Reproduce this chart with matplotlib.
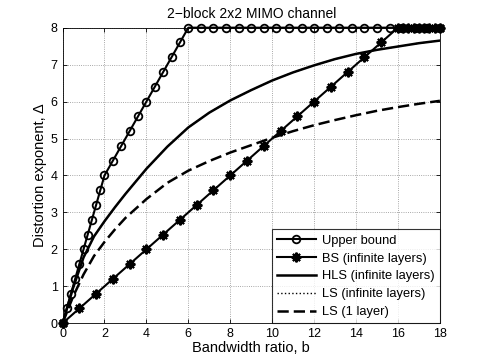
import matplotlib
matplotlib.use('Agg')
import matplotlib.pyplot as plt

plt.rcParams['font.family'] = ['Liberation Sans', 'DejaVu Sans']

# upper bound samples (bandwidth ratio b, distortion exponent)
ub_b = [0, 0.2, 0.4, 0.6, 0.8, 1.0, 1.2, 1.4, 1.6, 1.8, 2.0,
        2.4, 2.8, 3.2, 3.6, 4.0, 4.4, 4.8, 5.2, 5.6, 6.0,
        6.6, 7.2, 7.8, 8.4, 9.0, 9.6, 10.2, 10.8, 11.4, 12.0,
        12.6, 13.2, 13.8, 14.4, 15.0, 15.6, 16.2, 16.8, 17.4, 18.0]
ub_d = [0, 0.4, 0.8, 1.2, 1.6, 2.0, 2.4, 2.8, 3.2, 3.6, 4.0,
        4.4, 4.8, 5.2, 5.6, 6.0, 6.4, 6.8, 7.2, 7.6, 8.0,
        8, 8, 8, 8, 8, 8, 8, 8, 8, 8,
        8, 8, 8, 8, 8, 8, 8, 8, 8, 8]

# BS (infinite layers)
bs_b = [0, 0.8, 1.6, 2.4, 3.2, 4.0, 4.8, 5.6, 6.4, 7.2, 8.0,
        8.8, 9.6, 10.4, 11.2, 12.0, 12.8, 13.6, 14.4, 15.2, 16.0,
        16.25, 16.5, 16.75, 17.0, 17.25, 17.5, 17.75, 18.0]
bs_d = [0, 0.4, 0.8, 1.2, 1.6, 2.0, 2.4, 2.8, 3.2, 3.6, 4.0,
        4.4, 4.8, 5.2, 5.6, 6.0, 6.4, 6.8, 7.2, 7.6, 8.0,
        8, 8, 8, 8, 8, 8, 8, 8]

# HLS / LS (infinite layers) and LS (1 layer)
curve_b = [0, 0.5, 1, 1.5, 2, 2.5, 3, 4, 5, 6, 7, 8, 9, 10, 11, 12, 13, 14, 15, 16, 17, 18]
hls_d = [0, 0.95, 1.78, 2.35, 2.76, 3.14, 3.5, 4.18, 4.78, 5.3, 5.7, 6.03, 6.31, 6.57,
         6.79, 6.98, 7.15, 7.29, 7.40, 7.49, 7.58, 7.65]
ls_inf_d = hls_d
ls1_d = [0, 0.72, 1.32, 1.82, 2.2, 2.54, 2.85, 3.36, 3.8, 4.13, 4.39, 4.62, 4.82, 5.02,
         5.2, 5.36, 5.5, 5.63, 5.75, 5.85, 5.94, 6.02]

fig = plt.figure(figsize=(4.85, 3.64), dpi=100)
ax = fig.add_axes([0.129, 0.112, 0.778, 0.812])

ax.plot(ub_b, ub_d, 'k-', lw=1.5, marker='o', ms=5.5, mfc='none', mew=1.3,
        clip_on=False, zorder=4, label='Upper bound')
ax.plot(bs_b, bs_d, 'k-', lw=1.5, marker=(8, 2, 0), ms=7, mew=1.5,
        clip_on=False, zorder=4, label='BS (infinite layers)')
ax.plot(curve_b, ls_inf_d, 'k:', lw=1.0, label='LS (infinite layers)', zorder=2)
ax.plot(curve_b, hls_d, 'k-', lw=1.8, label='HLS (infinite layers)', zorder=3)
ax.plot(curve_b, ls1_d, 'k--', lw=1.8, dashes=(4.5, 2), label='LS (1 layer)', zorder=3)

ax.set_xlim(0, 18)
ax.set_ylim(0, 8)
ax.set_xticks(range(0, 19, 2))
ax.set_yticks(range(0, 9))
ax.tick_params(direction='in', top=True, right=True, labelsize=9, length=3, width=0.6)
ax.grid(True, linestyle=':', color='0.55', lw=0.6)
for s in ax.spines.values():
    s.set_linewidth(0.6)

ax.set_title('2\u2212block 2x2 MIMO channel', fontsize=10, pad=7)
ax.set_xlabel('Bandwidth ratio, b', fontsize=10.5, labelpad=1)
ax.set_ylabel('Distortion exponent, \u0394', fontsize=10.5, labelpad=3)

handles, labels = ax.get_legend_handles_labels()
order = [0, 1, 3, 2, 4]
leg = ax.legend([handles[i] for i in order], [labels[i] for i in order],
                loc='lower right', fontsize=9.3, fancybox=False, edgecolor='k',
                borderaxespad=0, handlelength=3.0, labelspacing=0.45,
                handletextpad=0.5, borderpad=0.4)
leg.get_frame().set_linewidth(0.8)
leg.set_zorder(5)

plt.savefig('out.png', dpi=100)
